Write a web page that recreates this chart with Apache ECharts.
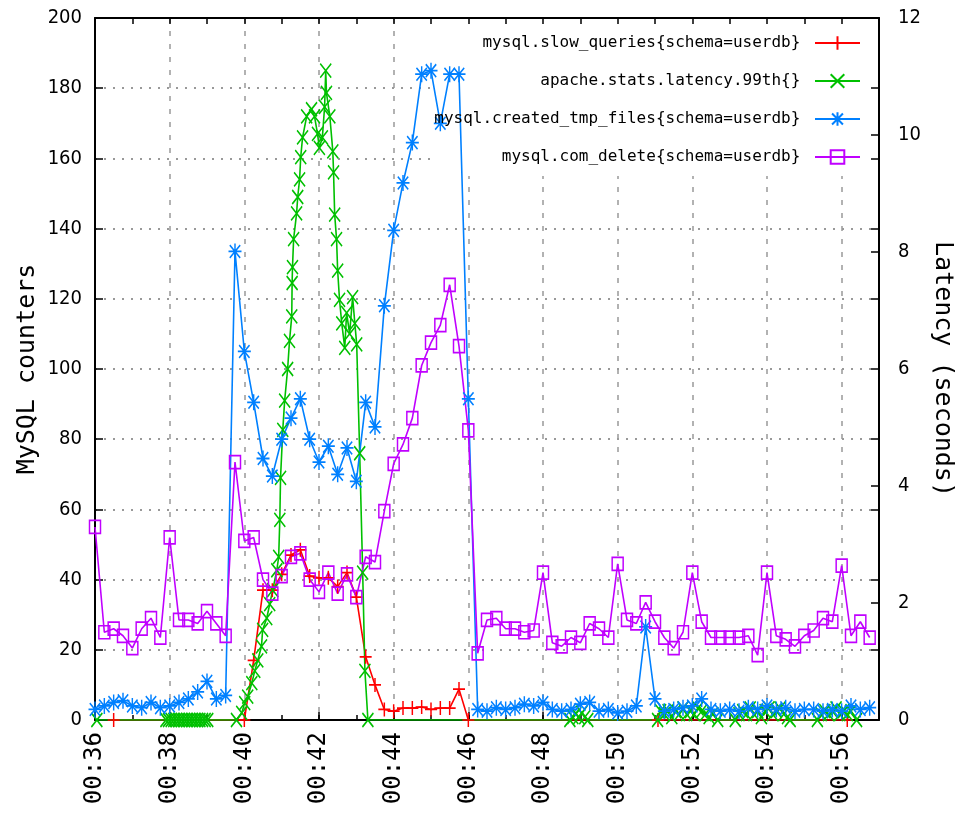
<!DOCTYPE html>
<html>
<head>
<meta charset="utf-8">
<script src="https://cdn.jsdelivr.net/npm/echarts@6/dist/echarts.min.js"></script>
<style>
html, body { margin: 0; padding: 0; background: #fff; }
#chart { width: 957px; height: 829px; }
</style>
</head>
<body>
<div id="chart"></div>
<script>
// samples every 15 s starting 00:36:00 (x axis is in minutes)
const startMinute = 36;
const stepMinute = 0.25;

const seriesNames = [
    'mysql.slow_queries{schema=userdb}',
    'apache.stats.latency.99th{}',
    'mysql.created_tmp_files{schema=userdb}',
    'mysql.com_delete{schema=userdb}'
];

const deleteValues = [
    55, 25, 26, 24, 20.5, 26, 29, 23.5, 52, 28.5, 28.5, 27.5, 31, 27.5, 24, 73.5,
    51, 52, 40, 36, 41, 46.5, 47.5, 40, 36.5, 42, 36, 41.5, 35, 46.5, 45, 59.5,
    73, 78.5, 86, 101, 107.5, 112.5, 124, 106.5, 82.5, 19, 28.5, 29, 26, 26,
    25, 25.5, 42, 22, 21, 23.5, 22, 27.5, 26, 23.5, 44.5, 28.5, 27.5, 33.5, 28, 23.5,
    20.5, 25, 42, 28, 23.5, 23.5, 23.5, 23.5, 24, 18.5, 42, 24, 23, 21, 24, 25.5,
    29, 28, 44, 24, 28, 23.5
];

const tmpFilesValues = [
    3, 4, 5, 5.5, 4, 3.5, 5, 3.5, 4, 5, 6, 8, 11, 6, 7, 133.5,
    105, 90.5, 74.5, 69.5, 80, 86, 91.5, 80, 73.5, 78, 70, 77.5, 68, 90.5, 83.5, 118,
    139.5, 153, 164.5, 184, 185, 170, 184, 184, 91.5, 3, 2.5, 3.5, 3, 3.5,
    4.5, 4, 5, 3, 2.5, 3, 4.5, 5, 2.5, 3, 2, 2.5, 4, 26.5, 6, 2.5,
    3, 3.5, 4, 6, 3, 2.5, 3, 2.5, 3.5, 3, 4, 3, 3.5, 2.5, 3, 3,
    2.5, 3, 2.5, 4, 3, 3.5
];

const slowTimes = [
    36.5,
    40, 40.25, 40.5, 40.75, 41, 41.25, 41.5, 41.75, 42, 42.25, 42.5, 42.75, 43,
    43.25, 43.5, 43.75, 44, 44.25, 44.5, 44.75, 45, 45.25, 45.5, 45.75, 46,
    51.08, 56.15
];
const slowValues = [
    0,
    0, 17, 37, 37, 41.5, 47, 48.5, 41, 40.5, 40.5, 38, 42, 35,
    18, 10, 3, 2.5, 3.4, 3.4, 3.7, 3, 3.4, 3.4, 8.8, 0,
    0, 0
];

// latency is in seconds (right axis)
const latencyTimes = [
    36.05,
    37.9, 37.97, 38.04, 38.11, 38.18, 38.25, 38.32, 38.39, 38.46, 38.53, 38.6, 38.67, 38.74, 38.81, 38.88, 38.95, 39.02,
    39.79, 39.93, 40.01, 40.09, 40.2, 40.28, 40.36, 40.46, 40.49, 40.6, 40.68, 40.76, 40.87, 40.92,
    40.95, 40.97, 41.03, 41.08, 41.16, 41.21, 41.27, 41.28, 41.29, 41.32, 41.4, 41.43, 41.48, 41.51, 41.56,
    41.67, 41.8, 41.88, 41.96, 42.01, 42.09, 42.15, 42.18, 42.2, 42.29, 42.37, 42.39, 42.42, 42.47,
    42.5, 42.55, 42.61, 42.69, 42.74, 42.82, 42.9, 42.96, 43.01, 43.09, 43.17, 43.23, 43.31,
    48.72, 48.8, 48.88, 48.96, 49.04, 49.12, 49.2,
    51.07, 51.15, 51.25, 51.35, 51.45, 51.55, 51.65, 51.75, 51.85, 51.95, 52.05, 52.15, 52.25, 52.35, 52.45, 52.55, 52.68,
    53.15, 53.25, 53.35, 53.45, 53.55, 53.65, 53.75, 53.85, 53.95, 54.05, 54.15, 54.25, 54.35, 54.45, 54.55, 54.62,
    55.35, 55.45, 55.55, 55.65, 55.75, 55.85, 55.95, 56.05, 56.15, 56.25, 56.4
];
const latencyValues = [
    0,
    0, 0, 0, 0, 0, 0, 0, 0, 0, 0, 0, 0, 0, 0, 0, 0, 0,
    0, 0.12, 0.29, 0.4, 0.63, 0.84, 1.02, 1.26, 1.54, 1.74, 1.98, 2.22, 2.56, 2.79,
    3.42, 4.14, 4.96, 5.46, 6.0, 6.48, 6.9, 7.47, 7.74, 8.22, 8.66, 8.94, 9.24, 9.62, 9.96,
    10.32, 10.44, 10.32, 10.02, 9.78, 9.96, 10.48, 11.1, 10.72, 10.32, 9.72, 9.36, 8.64, 8.22,
    7.68, 7.18, 6.78, 6.36, 6.96, 6.6, 7.23, 6.78, 6.42, 4.56, 2.52, 0.84, 0,
    0, 0.05, 0.1, 0.05, 0.12, 0.05, 0,
    0, 0.15, 0.1, 0.15, 0.05, 0.15, 0.1, 0.2, 0.1, 0.15, 0.1, 0.2, 0.15, 0.1, 0.05, 0.1, 0,
    0, 0.1, 0.15, 0.1, 0.2, 0.1, 0.15, 0.05, 0.15, 0.2, 0.1, 0.15, 0.2, 0.1, 0.05, 0,
    0, 0.1, 0.15, 0.1, 0.15, 0.2, 0.1, 0.15, 0.1, 0.15, 0
];

const colors = ['#ff0000', '#00c000', '#0080ff', '#c000ff'];
const symbols = [
    'path://M5,0L5,10M0,5L10,5',
    'path://M0,0L10,10M10,0L0,10',
    'path://M5,0L5,10M0,5L10,5M1,1L9,9M9,1L1,9',
    'path://M0,0L10,0L10,10L0,10Z'
];

const monoFont = "'DejaVu Sans Mono', monospace";
const narrowFont = "'Liberation Sans Narrow', 'DejaVu Sans Condensed', 'Liberation Sans', sans-serif";

function sampled(values) {
    return values.map((v, i) => [startMinute + i * stepMinute, v]);
}

function paired(times, values) {
    return times.map((t, i) => [t, values[i]]);
}

function lineSeries(idx, data, yAxisIndex, size) {
    return {
        name: seriesNames[idx],
        type: 'line',
        xAxisIndex: 0,
        yAxisIndex: yAxisIndex,
        data: data,
        symbol: symbols[idx],
        symbolSize: size,
        showAllSymbol: true,
        lineStyle: { color: colors[idx], width: 1.6 },
        itemStyle: {
            color: idx === 3 ? 'rgba(0,0,0,0)' : colors[idx],
            borderColor: colors[idx],
            borderWidth: 1.6
        },
        emphasis: { disabled: true }
    };
}

function legendRow(idx, top) {
    return {
        data: [seriesNames[idx]],
        selectedMode: false,
        orient: 'vertical',
        align: 'right',
        right: 96,
        top: top,
        padding: 0,
        itemWidth: 45,
        itemHeight: 17,
        formatter: name => name + ' ',
        textStyle: { fontFamily: monoFont, fontSize: 16, color: '#000' }
    };
}

var chart = echarts.init(document.getElementById('chart'), null, { renderer: 'canvas' });

let option = {
    animation: false,
    backgroundColor: '#fff',
    grid: { left: 95, right: 78, top: 18, bottom: 109, containLabel: false, outerBoundsMode: 'none' },
    legend: [legendRow(0, 35), legendRow(1, 73), legendRow(2, 111), legendRow(3, 149)],
    graphic: [{
        type: 'rect',
        z: 1,
        silent: true,
        shape: { x: 437, y: 19, width: 440, height: 157 },
        style: { fill: '#fff' }
    }],
    xAxis: [
        {
            type: 'value', position: 'bottom', min: 36, max: 57, interval: 2,
            axisLine: { show: false, onZero: false },
            axisTick: { show: true, inside: true, length: 8, lineStyle: { color: '#000', width: 1.5 } },
            axisLabel: {
                rotate: 90, margin: 12, color: '#000', fontFamily: monoFont, fontSize: 24,
                showMaxLabel: false,
                formatter: v => '00:' + v
            },
            splitLine: { show: true, lineStyle: { color: '#999', width: 1.5, type: [5, 8] } }
        },
        {
            type: 'value', position: 'bottom', min: 36, max: 57, interval: 1, z: 3,
            axisLine: { show: true, onZero: false, lineStyle: { color: '#000', width: 2 } },
            axisTick: { show: true, inside: true, length: 5, lineStyle: { color: '#000', width: 1.5 } },
            axisLabel: { show: false },
            splitLine: { show: false }
        },
        {
            type: 'value', position: 'top', min: 36, max: 57, interval: 1, z: 3,
            axisLine: { show: true, onZero: false, lineStyle: { color: '#000', width: 2 } },
            axisTick: { show: true, inside: true, length: 6, lineStyle: { color: '#000', width: 1.5 } },
            axisLabel: { show: false },
            splitLine: { show: false }
        }
    ],
    yAxis: [
        {
            type: 'value', position: 'left', min: 0, max: 200, interval: 20,
            name: 'MySQL counters', nameLocation: 'middle', nameRotate: 90, nameGap: 55,
            nameMoveOverlap: false,
            nameTextStyle: { fontFamily: monoFont, fontSize: 25, color: '#000' },
            axisLine: { show: true, onZero: false, lineStyle: { color: '#000', width: 2 } },
            axisTick: { show: true, inside: true, length: 8, lineStyle: { color: '#000', width: 1.5 } },
            axisLabel: { color: '#000', fontFamily: narrowFont, fontSize: 20, margin: 13 },
            splitLine: { show: true, lineStyle: { color: '#999', width: 2, type: [2, 7] } }
        },
        {
            type: 'value', position: 'right', min: 0, max: 12, interval: 2, z: 3,
            name: 'Latency (seconds)', nameLocation: 'middle', nameRotate: -90, nameGap: 51,
            nameMoveOverlap: false,
            nameTextStyle: { fontFamily: monoFont, fontSize: 25, color: '#000' },
            axisLine: { show: true, onZero: false, lineStyle: { color: '#000', width: 2 } },
            axisTick: { show: true, inside: true, length: 8, lineStyle: { color: '#000', width: 1.5 } },
            axisLabel: { color: '#000', fontFamily: narrowFont, fontSize: 20, margin: 19 },
            splitLine: { show: false }
        },
        {
            type: 'value', position: 'right', min: 0, max: 200, interval: 20, z: 3,
            axisLine: { show: false, onZero: false },
            axisTick: { show: true, inside: true, length: 8, lineStyle: { color: '#000', width: 1.5 } },
            axisLabel: { show: false },
            splitLine: { show: false }
        }
    ],
    series: [
        lineSeries(0, paired(slowTimes, slowValues), 0, [12, 14]),
        lineSeries(1, paired(latencyTimes, latencyValues), 1, [11, 14]),
        lineSeries(2, sampled(tmpFilesValues), 0, [13, 16]),
        lineSeries(3, sampled(deleteValues), 0, [11, 13])
    ]
};

chart.setOption(option);
</script>
</body>
</html>
